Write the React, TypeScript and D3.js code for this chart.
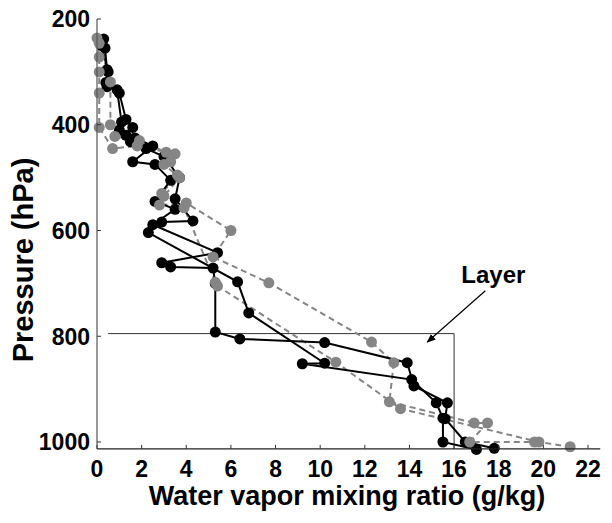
import React from "react";
import * as d3 from "d3";

type Pt = [number, number];

const xTicks = [0, 2, 4, 6, 8, 10, 12, 14, 16, 18, 20, 22];
const yTicks = [200, 400, 600, 800, 1000];

// black solid profiles: [mixing ratio g/kg, pressure hPa]
const black1: Pt[] = [
  [0.3, 238], [0.36, 255], [0.45, 296], [0.45, 328], [0.9, 334], [1.1, 395], [1.0, 410],
  [1.7, 425], [2.5, 440], [1.6, 470], [2.6, 475], [3.3, 505], [2.6, 545], [3.5, 560],
  [2.5, 589], [5.4, 642], [2.9, 661], [3.3, 669], [5.2, 671], [5.3, 700], [5.3, 792],
  [6.4, 805], [10.2, 812], [13.9, 850], [14.2, 894], [15.7, 926], [15.6, 956],
  [16.5, 1000], [17.8, 1012],
];
const black2: Pt[] = [
  [0.2, 250], [0.5, 300], [0.4, 320], [1.0, 340], [1.3, 390], [1.6, 405], [1.3, 420],
  [1.5, 432], [2.2, 445], [3.0, 460], [3.7, 500], [3.5, 540], [4.3, 582], [2.9, 584],
  [2.3, 604], [6.3, 697], [6.8, 756], [10.2, 851], [9.2, 852], [14.1, 882], [15.2, 926],
  [15.5, 955], [15.5, 1000], [17.0, 1014],
];
// gray dashed profiles
const gray1: Pt[] = [
  [0.0, 236], [0.1, 272], [0.1, 300], [0.1, 340], [0.1, 405], [0.7, 445], [1.8, 440],
  [3.5, 455], [3.0, 475], [3.7, 500], [3.0, 535], [2.8, 552], [4.0, 548], [6.0, 600],
  [5.2, 650], [7.7, 699], [12.3, 811], [13.3, 850], [13.1, 924], [16.9, 964],
  [17.5, 964], [16.7, 1000], [19.6, 1000],
];
const gray2: Pt[] = [
  [0.1, 246], [0.6, 319], [0.6, 400], [0.8, 422], [1.9, 430], [3.1, 452], [3.3, 470],
  [3.6, 495], [2.9, 530], [3.9, 557], [5.3, 698], [5.4, 705], [10.7, 849], [13.6, 937],
  [19.8, 1000], [21.2, 1009],
];

const layerTop = 795;
const layerLeft = 0.5;
const layerRight = 16;

export default function App() {
  const W = 612, H = 523;
  const x = d3.scaleLinear().domain([0, 22]).range([97, 588]);
  const y = d3.scaleLinear().domain([200, 1000]).range([19, 442]);
  const yBottom = y(1013);
  const xRight = x(22.55);
  const line = d3.line<Pt>().x((d) => x(d[0])).y((d) => y(d[1]));
  const font = "Liberation Sans, Arial, sans-serif";
  const black = "#000";
  const gray = "#858585";

  const arrowFrom: Pt = [17.4, 714];
  const arrowTo: Pt = [14.8, 811];

  return (
    <svg width={W} height={H} style={{ position: "absolute", left: 0, top: 0, background: "#fff" }}>
      <defs>
        <marker id="ah" viewBox="0 0 10 10" refX="9" refY="5" markerWidth="9" markerHeight="9" orient="auto" markerUnits="userSpaceOnUse">
          <path d="M0,1 L10,5 L0,9 Z" fill="#000" />
        </marker>
      </defs>
      {/* layer box */}
      <polyline
        points={`${x(layerLeft)},${y(layerTop)} ${x(layerRight)},${y(layerTop)} ${x(layerRight)},${yBottom}`}
        fill="none" stroke="#333" strokeWidth={1}
      />
      {/* arrow */}
      <line x1={x(arrowFrom[0])} y1={y(arrowFrom[1])} x2={x(arrowTo[0])} y2={y(arrowTo[1])} stroke="#000" strokeWidth={1.2} markerEnd="url(#ah)" />
      <text x={x(17.76)} y={y(699)} textAnchor="middle" fontFamily={font} fontWeight="bold" fontSize={24}>Layer</text>

      {/* lines */}
      {[gray1, gray2].map((s, i) => (
        <path key={"gl" + i} d={line(s) || ""} fill="none" stroke={gray} strokeWidth={2} strokeDasharray="6,4" />
      ))}
      {[black1, black2].map((s, i) => (
        <path key={"bl" + i} d={line(s) || ""} fill="none" stroke={black} strokeWidth={2} />
      ))}
      {[black1, black2].map((s, i) =>
        s.map((d, j) => <circle key={`bp${i}-${j}`} cx={x(d[0])} cy={y(d[1])} r={5.5} fill={black} />)
      )}
      {[gray1, gray2].map((s, i) =>
        s.map((d, j) => <circle key={`gp${i}-${j}`} cx={x(d[0])} cy={y(d[1])} r={5.5} fill={gray} />)
      )}

      {/* axes */}
      <line x1={x(0)} y1={y(200)} x2={x(0)} y2={yBottom} stroke="#555" strokeWidth={1.2} />
      <line x1={x(0)} y1={yBottom} x2={xRight} y2={yBottom} stroke="#222" strokeWidth={1.2} />
      {yTicks.map((t) => (
        <g key={"yt" + t}>
          <line x1={x(0)} x2={x(0) + 4} y1={y(t)} y2={y(t)} stroke="#333" />
          <text x={90} y={y(t)} dy="0.36em" textAnchor="end" fontFamily={font} fontWeight="bold" fontSize={23}>{t}</text>
        </g>
      ))}
      {xTicks.map((t) => (
        <g key={"xt" + t}>
          <line x1={x(t)} x2={x(t)} y1={yBottom} y2={yBottom - 4} stroke="#333" />
          <text x={x(t)} y={477} textAnchor="middle" fontFamily={font} fontWeight="bold" fontSize={23}>{t}</text>
        </g>
      ))}
      <text x={347} y={505} textAnchor="middle" fontFamily={font} fontWeight="bold" fontSize={27}>Water vapor mixing ratio (g/kg)</text>
      <text transform={`translate(33,260) rotate(-90)`} textAnchor="middle" fontFamily={font} fontWeight="bold" fontSize={29}>Pressure (hPa)</text>
    </svg>
  );
}
